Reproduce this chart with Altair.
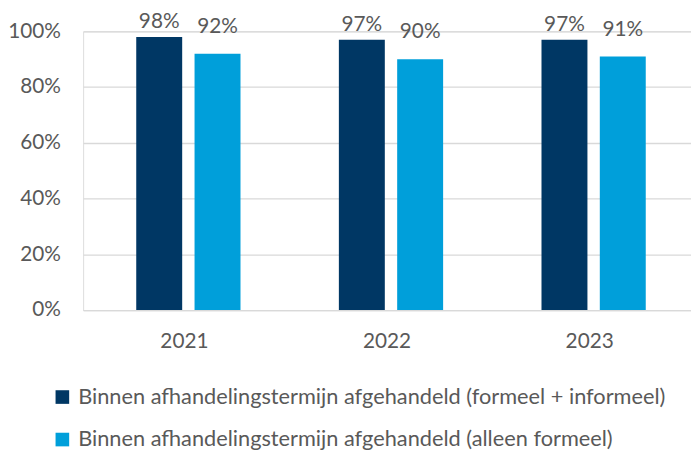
import altair as alt
import pandas as pd

years = ["2021", "2022", "2023"]
series = [
    "Binnen afhandelingstermijn afgehandeld (formeel + informeel)",
    "Binnen afhandelingstermijn afgehandeld (alleen formeel)",
]
formeel_informeel = [0.98, 0.97, 0.97]
alleen_formeel = [0.92, 0.90, 0.91]
colors = ["#003764", "#009FDA"]

rows = []
for i, y in enumerate(years):
    rows.append({"jaar": y, "reeks": series[0], "waarde": formeel_informeel[i]})
    rows.append({"jaar": y, "reeks": series[1], "waarde": alleen_formeel[i]})
df = pd.DataFrame(rows)

FONT = "Lato"
TXT = "#595959"

x = alt.X("jaar:N", sort=years, title=None,
          scale=alt.Scale(paddingInner=0, paddingOuter=0),
          axis=alt.Axis(labelAngle=0, ticks=False, domain=True, domainColor="#D9D9D9",
                        domainWidth=1.3, labelPadding=21, labelFontSize=21,
                        labelColor=TXT, labelFont=FONT, grid=False))
xo = alt.XOffset("reeks:N", sort=series,
                 scale=alt.Scale(domain=series, paddingInner=0.212, paddingOuter=0.8435,
                                 align=0.54))
y = alt.Y("waarde:Q", title=None,
          scale=alt.Scale(domain=[0, 1], nice=False),
          axis=alt.Axis(format="%", values=[0, 0.2, 0.4, 0.6, 0.8, 1.0], ticks=False,
                        domain=False, grid=True, gridColor="#D9D9D9", gridWidth=1.3,
                        labelPadding=23, labelFontSize=21, labelColor=TXT, labelFont=FONT))
color = alt.Color("reeks:N", sort=series,
                  scale=alt.Scale(domain=series, range=colors),
                  legend=alt.Legend(title=None, orient="none", legendX=-32, legendY=359,
                                    direction="vertical", symbolType="square", symbolSize=190,
                                    symbolStrokeWidth=0, labelFontSize=22, labelFont=FONT,
                                    labelColor=TXT, labelOffset=5, rowPadding=21, padding=0,
                                    labelLimit=800))

base = alt.Chart(df)
bars = base.mark_bar().encode(x=x, xOffset=xo, y=y, color=color)

lab1 = base.transform_filter(alt.datum.reeks == series[0]).mark_text(
    baseline="bottom", dy=-5, fontSize=21, font=FONT, color=TXT
).encode(x=x, xOffset=xo, y=y, text=alt.Text("waarde:Q", format=".0%"))
lab2 = base.transform_filter(alt.datum.reeks == series[1]).mark_text(
    baseline="bottom", dy=-17, fontSize=21, font=FONT, color=TXT
).encode(x=x, xOffset=xo, y=y, text=alt.Text("waarde:Q", format=".0%"))

chart = alt.layer(bars, lab1, lab2).properties(
    width=615, height=282,
    autosize=alt.AutoSizeParams(type="none"),
    padding={"left": 76, "top": 21, "right": 0, "bottom": 141},
).configure_view(stroke=None).configure(background="white")

chart.save("out.html", embed_options={"renderer": "svg", "actions": False})
